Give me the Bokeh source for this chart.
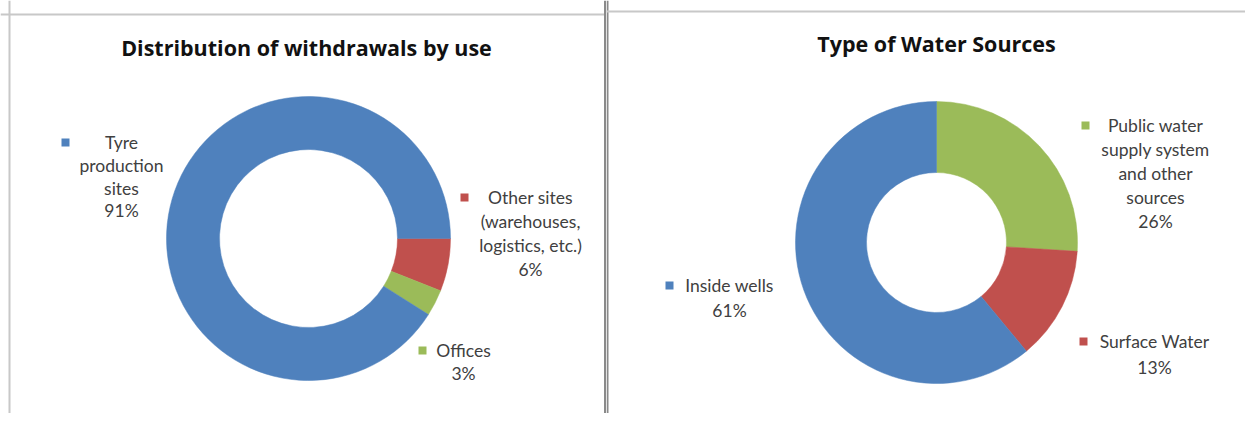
import math
from bokeh.plotting import figure
from bokeh.layouts import row
from bokeh.models import Range1d, Span, ColumnDataSource
from bokeh.core.properties import value
from bokeh.embed import file_html
from bokeh.resources import INLINE

# ---------------- data ----------------
use_title = "Distribution of withdrawals by use"
use_categories = ["Other sites (warehouses, logistics, etc.)", "Offices", "Tyre production sites"]
use_label_lines = [["Other sites", "(warehouses,", "logistics, etc.)"], ["Offices"], ["Tyre", "production", "sites"]]
use_pct = [6, 3, 91]
use_colors = ["#C0504D", "#9BBB59", "#4F81BD"]

src_title = "Type of Water Sources"
src_categories = ["Public water supply system and other sources", "Surface Water", "Inside wells"]
src_label_lines = [["Public water", "supply system", "and other", "sources"], ["Surface Water"], ["Inside wells"]]
src_pct = [26, 13, 61]
src_colors = ["#9BBB59", "#C0504D", "#4F81BD"]

FONT = "Lato"
TITLE_FONT = "Open Sans"
LABEL_COLOR = "#404040"
H = 413


def make_fig(w):
    p = figure(width=w, height=H, x_range=Range1d(0, w), y_range=Range1d(0, H),
               output_backend="svg", toolbar_location=None, min_border=0,
               x_axis_location=None, y_axis_location=None)
    p.grid.visible = False
    p.outline_line_color = None
    p.background_fill_color = "white"
    p.border_fill_color = "white"
    return p


def clockwise(vals, start_deg):
    total = float(sum(vals))
    a0 = math.radians(start_deg)
    starts, ends, cum = [], [], 0.0
    for v in vals:
        a_from = a0 - cum / total * 2 * math.pi
        a_to = a0 - (cum + v) / total * 2 * math.pi
        starts.append(a_to)
        ends.append(a_from)
        cum += v
    return starts, ends


def donut(p, cx, cy, r_in, r_out, vals, colors, start_deg):
    s, e = clockwise(vals, start_deg)
    src = ColumnDataSource(dict(start=s, end=e, color=colors))
    p.annular_wedge(x=cx, y=cy, inner_radius=r_in, outer_radius=r_out,
                    start_angle="start", end_angle="end", direction="anticlock",
                    fill_color="color", line_color="color", line_width=0.5, source=src)


def label(p, mx, my, tx, lines, pct, color, dy=23.5):
    p.scatter(x=[mx], y=[my], marker="square", size=8, fill_color=color, line_color=None)
    texts = list(lines) + ["%d%%" % pct]
    ys = [my - i * dy for i in range(len(texts))]
    p.text(x=[tx] * len(texts), y=ys, text=texts, text_font=value(FONT),
           text_font_size="17.5px", text_color=LABEL_COLOR, text_align="center",
           text_baseline="middle")


def title(p, x, y, t):
    p.text(x=[x], y=[y], text=[t], text_font=value(TITLE_FONT), text_font_size="21.5px",
           text_font_style="bold", text_color="#111111", text_align="center",
           text_baseline="middle")


# ---------------- left panel ----------------
W1 = 606
p1 = make_fig(W1)
p1.add_layout(Span(location=9, dimension="height", line_color="#c8c8c8", line_width=2))
p1.add_layout(Span(location=H - 14, dimension="width", line_color="#c8c8c8", line_width=2))
p1.add_layout(Span(location=W1 - 1.5, dimension="height", line_color="#8a8a8a", line_width=2))
title(p1, 306, 366, use_title)
donut(p1, 308, 175, 89, 142, use_pct, use_colors, 0)
use_label_pos = [(464, 216, 530, 24), (422, 63, 463, 23), (65, 271, 121, 22.8)]
for (mx, my, tx, dy), lines, pct, c in zip(use_label_pos, use_label_lines, use_pct, use_colors):
    label(p1, mx, my, tx, lines, pct, c, dy=dy)

# ---------------- right panel ----------------
W2 = 639
p2 = make_fig(W2)
p2.add_layout(Span(location=1, dimension="height", line_color="#8a8a8a", line_width=2))
p2.add_layout(Span(location=H - 11, dimension="width", line_color="#c8c8c8", line_width=2))
title(p2, 330, 370, src_title)
donut(p2, 330, 171, 70, 141, src_pct, src_colors, 90)
src_label_pos = [(479, 288, 549, 24), (477, 72, 548, 26), (63, 128, 123, 25)]
for (mx, my, tx, dy), lines, pct, c in zip(src_label_pos, src_label_lines, src_pct, src_colors):
    label(p2, mx, my, tx, lines, pct, c, dy=dy)

layout = row(p1, p2, spacing=0)
open("out.html", "w").write(file_html(layout, INLINE))
